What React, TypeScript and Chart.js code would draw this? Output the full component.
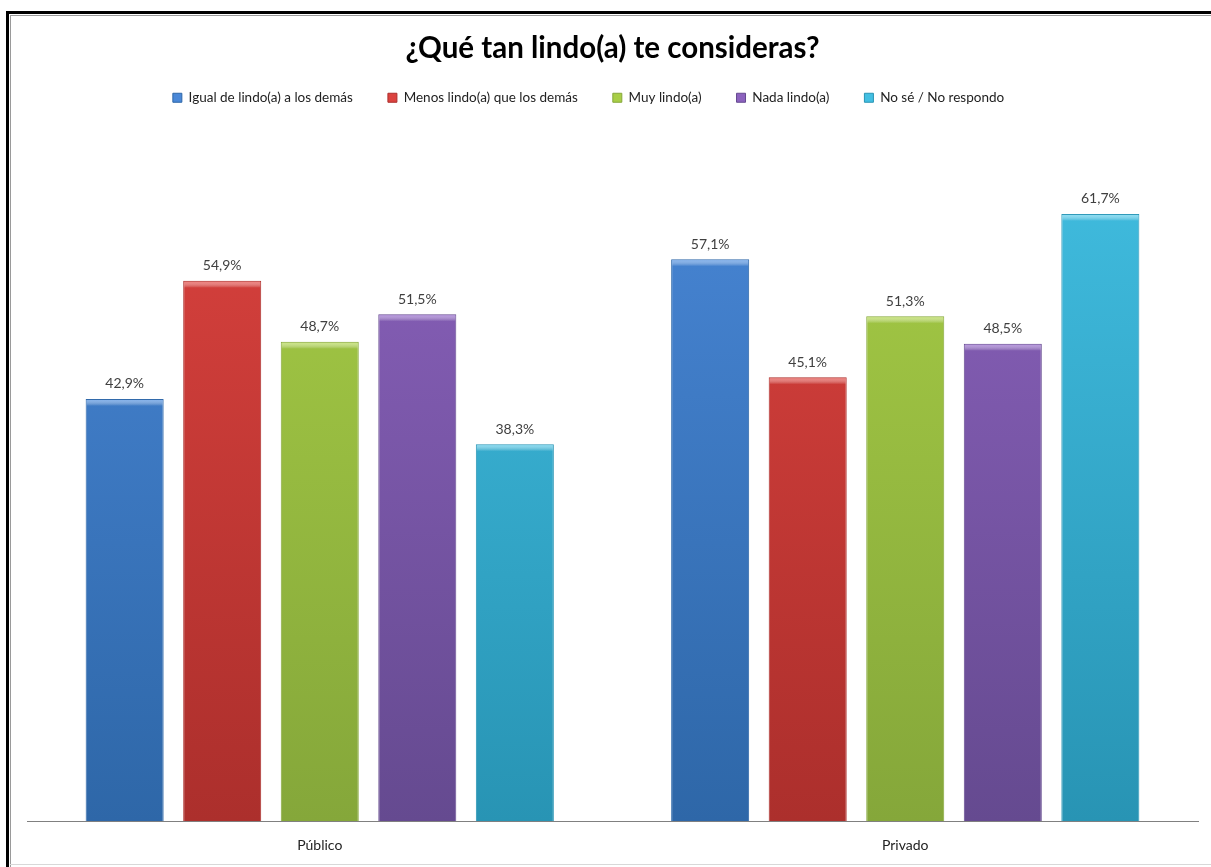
import React, { useEffect, useRef } from "react";
import { Chart, registerables } from "chart.js";

Chart.register(...registerables);

const chartTitle = "¿Qué tan lindo(a) te consideras?";
const categories = ["Público", "Privado"];
const seriesNames = [
  "Igual de lindo(a) a los demás",
  "Menos lindo(a) que los demás",
  "Muy lindo(a)",
  "Nada lindo(a)",
  "No sé / No respondo",
];
const igualValues = [42.9, 57.1];
const menosValues = [54.9, 45.1];
const muyValues = [48.7, 51.3];
const nadaValues = [51.5, 48.5];
const noSeValues = [38.3, 61.7];
const seriesValues = [igualValues, menosValues, muyValues, nadaValues, noSeValues];

// [light top, dark bottom, bevel highlight]
const palette: [string, string, string][] = [
  ["#4a88d8", "#2e67a8", "#7fb0ee"],
  ["#dc433f", "#ac2f2c", "#f07a76"],
  ["#a8ce46", "#85a73a", "#cbe77e"],
  ["#8c62be", "#654a90", "#b592e0"],
  ["#42bfe2", "#2894b4", "#86ddf4"],
];

const FONT = "Lato, 'Open Sans', sans-serif";
const LEGEND_SHIFT = -24;

const fmt = (v: number) => v.toFixed(1).replace(".", ",") + "%";

const legendShift = {
  id: "legendShift",
  afterLayout(chart: any) {
    const lg = chart.legend;
    if (lg) {
      lg.left += LEGEND_SHIFT;
      lg.right += LEGEND_SHIFT;
    }
  },
};

const barDecor = {
  id: "barDecor",
  afterDatasetsDraw(chart: any) {
    const ctx = chart.ctx;
    ctx.save();
    chart.data.datasets.forEach((ds: any, di: number) => {
      const meta = chart.getDatasetMeta(di);
      meta.data.forEach((bar: any, i: number) => {
        const { x, y, width } = bar.getProps(["x", "y", "width"], true);
        const left = x - width / 2;
        const g = ctx.createLinearGradient(0, y, 0, y + 7);
        g.addColorStop(0, palette[di][2]);
        g.addColorStop(1, "rgba(255,255,255,0)");
        ctx.fillStyle = g;
        ctx.fillRect(left + 1, y + 1, width - 2, 6);
        ctx.fillStyle = "#404040";
        ctx.font = `14px ${FONT}`;
        ctx.textAlign = "center";
        ctx.textBaseline = "bottom";
        ctx.fillText(fmt(ds.data[i]), x, y - 8);
      });
    });
    ctx.restore();
  },
};

export default function App() {
  const ref = useRef<HTMLCanvasElement>(null);
  useEffect(() => {
    if (!ref.current) return;
    const datasets = seriesNames.map((name, di) => ({
      label: name,
      data: seriesValues[di],
      backgroundColor: (c: any) => {
        const area = c.chart.chartArea;
        if (!area) return palette[di][0];
        const g = c.chart.ctx.createLinearGradient(0, area.top, 0, area.bottom);
        g.addColorStop(0, palette[di][0]);
        g.addColorStop(1, palette[di][1]);
        return g;
      },
      borderColor: palette[di][1],
      borderWidth: 1,
      categoryPercentage: 0.833,
      barPercentage: 0.8,
    }));
    const chart = new Chart(ref.current, {
      type: "bar",
      data: { labels: categories, datasets },
      options: {
        responsive: false,
        animation: false,
        layout: { padding: { left: 27, right: 13, top: 0, bottom: 5 } },
        plugins: {
          title: {
            display: true,
            text: chartTitle,
            color: "#000",
            font: { family: FONT, size: 29.5, weight: "bold" },
            padding: { top: 31, bottom: -10.4 },
          },
          legend: {
            display: true,
            position: "top",
            labels: {
              boxWidth: 9,
              boxHeight: 9,
              padding: 35,
              color: "#222",
              font: { family: FONT, size: 13.5 },
              generateLabels: (ch: any) =>
                ch.data.datasets.map((ds: any, i: number) => ({
                  text: ds.label,
                  fillStyle: palette[i][0],
                  strokeStyle: palette[i][1],
                  lineWidth: 1,
                  datasetIndex: i,
                  fontColor: "#222",
                })),
            },
          },
          tooltip: { enabled: false },
        },
        scales: {
          x: {
            grid: { display: false },
            border: { display: true, color: "#808080", width: 1 },
            ticks: { color: "#222", font: { family: FONT, size: 14 }, padding: 8 },
          },
          y: {
            display: false,
            min: 0,
            max: 71.8,
          },
        },
      },
      plugins: [legendShift, barDecor],
    });
    return () => chart.destroy();
  }, []);
  return (
    <div style={{ position: "absolute", left: 0, top: 0, width: 1211, height: 867, background: "#fff" }}>
      <canvas ref={ref} width={1211} height={867} style={{ position: "absolute", left: 0, top: 0 }} />
      <div style={{ position: "absolute", left: 6, top: 11, width: 1205, height: 3, background: "#000" }} />
      <div style={{ position: "absolute", left: 6, top: 11, width: 3, height: 856, background: "#000" }} />
      <div style={{ position: "absolute", left: 10, top: 15, width: 1201, height: 1, background: "#9a9a9a" }} />
      <div style={{ position: "absolute", left: 10, top: 15, width: 1, height: 852, background: "#9a9a9a" }} />
      <div style={{ position: "absolute", left: 10, top: 864, width: 1201, height: 1, background: "#d8d8d8" }} />
    </div>
  );
}
